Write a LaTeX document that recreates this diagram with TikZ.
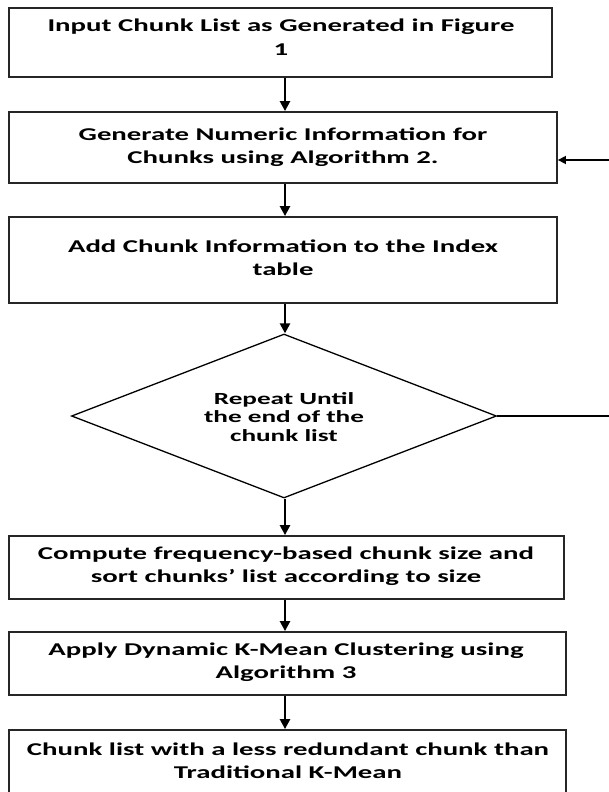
\documentclass[tikz,border=0pt]{standalone}
\usepackage{fontspec}
\newfontfamily\labfont{Carlito}[FakeStretch=1.6]
\usetikzlibrary{arrows.meta,shapes.geometric}
\tikzset{
  box/.style={draw=black!85, line width=1.8pt, rectangle, inner sep=0pt},
  txt/.style={align=center, inner sep=0pt, font=\labfont\bfseries\fontsize{18}{23.5}\selectfont},
  dtxt/.style={align=center, inner sep=0pt, font=\labfont\bfseries\fontsize{17}{18.5}\selectfont},
  arr/.style={line width=2.4pt, -{Triangle[length=10pt,width=10pt]}},
  thinarr/.style={line width=1.6pt, -{Triangle[length=8pt,width=8pt]}},
  dia/.style={draw=black, line width=1.3pt, diamond, inner sep=0pt}
}
\begin{document}
\begin{tikzpicture}[x=1pt,y=-1pt]
\useasboundingbox (0,0) rectangle (609,792);
\clip (0,0) rectangle (609,792);
\fill[white] (0,0) rectangle (609,792);
\coordinate (ax) at (285,0);
% boxes
\node[box, minimum width=543pt, minimum height=69pt] (b1) at (280.5,42.5) {};
\node[box, minimum width=548pt, minimum height=71pt] (b2) at (283,147.5) {};
\node[box, minimum width=548pt, minimum height=86pt] (b3) at (283,260) {};
\node[dia, minimum width=425pt, minimum height=164pt] (d) at (284,416) {};
\node[box, minimum width=555pt, minimum height=63pt] (b4) at (286.5,567.5) {};
\node[box, minimum width=557pt, minimum height=63pt] (b5) at (287.5,663.5) {};
\node[box, minimum width=557pt, minimum height=80pt] (b6) at (287.5,770) {};
% texts
\node[txt] (t1) at (281,37) {Input Chunk List as Generated in Figure\\1};
\node[txt] (t2) at (283,147) {Generate Numeric Information for\\Chunks using Algorithm 2.};
\node[txt] (t3) at (283,257.5) {Add Chunk Information to the Index\\table};
\node[dtxt] (td) at (284,417) {Repeat Until\\the end of the\\chunk list};
\node[txt] (t4) at (286,566) {Compute frequency-based chunk size and\\sort chunks’ list according to size};
\node[txt] (t5) at (286,662) {Apply Dynamic K-Mean Clustering using\\Algorithm 3};
\node[txt] (t6) at (288,760.5) {Chunk list with a less redundant chunk than\\Traditional K-Mean};
% connectors
\draw[arr] (b1.south -| ax) -- (b2.north -| ax);
\draw[arr] (b2.south -| ax) -- (b3.north -| ax);
\draw[arr] (b3.south -| ax) -- (d.north -| ax);
\draw[arr] (d.south -| ax) -- (b4.north -| ax);
\draw[arr] (b4.south -| ax) -- (b5.north -| ax);
\draw[arr] (b5.south -| ax) -- (b6.north -| ax);
\coordinate (fb) at (609,160);
\coordinate (rt) at (609,416);
\draw[thinarr] (fb) -- (fb -| b2.east);
\draw[line width=1.6pt] (d.east) -- (rt);
\end{tikzpicture}
\end{document}
